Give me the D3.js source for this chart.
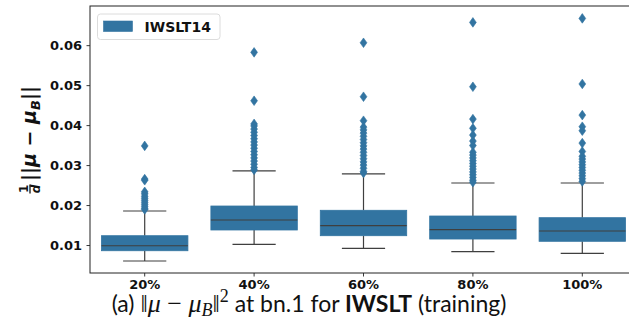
<!DOCTYPE html>
<html>
<head>
<meta charset="utf-8">
<script src="https://cdn.jsdelivr.net/npm/d3@7"></script>
<style>
  html, body { margin: 0; padding: 0; background: #fff; overflow: hidden; }
  svg { display: block; }
</style>
</head>
<body>
<svg id="chart" width="629" height="322"></svg>
<script>
// Box statistics per training-fraction group
const categories = ["20%", "40%", "60%", "80%", "100%"];
const q1Values      = [0.00857, 0.01376, 0.01233, 0.01150, 0.01093];
const medianValues  = [0.00982, 0.01626, 0.01483, 0.01383, 0.01351];
const q3Values      = [0.01233, 0.01976, 0.01869, 0.01726, 0.01684];
const whiskerLow    = [0.00600, 0.01017, 0.00917, 0.00833, 0.00792];
const whiskerHigh   = [0.01851, 0.02853, 0.02778, 0.02552, 0.02552];
const outliers20  = [0.0348, 0.0265, 0.0262, 0.0233, 0.0228, 0.0222, 0.0217, 0.0212, 0.0207, 0.0202, 0.0197, 0.0192, 0.0189];
const outliers40  = [0.0582, 0.0461, 0.0403, 0.0398, 0.0390, 0.0382, 0.0374, 0.0366, 0.0358, 0.0350, 0.0342, 0.0334, 0.0326, 0.0318, 0.0310, 0.0302, 0.0294, 0.0288];
const outliers60  = [0.0606, 0.0471, 0.0411, 0.0395, 0.0388, 0.0380, 0.0372, 0.0364, 0.0356, 0.0348, 0.0340, 0.0332, 0.0324, 0.0316, 0.0308, 0.0300, 0.0292, 0.0284, 0.0280];
const outliers80  = [0.0657, 0.0496, 0.0415, 0.0392, 0.0375, 0.0360, 0.0349, 0.0332, 0.0325, 0.0318, 0.0311, 0.0304, 0.0297, 0.0290, 0.0283, 0.0276, 0.0269, 0.0262, 0.0257];
const outliers100 = [0.0667, 0.0503, 0.0425, 0.0396, 0.0386, 0.0355, 0.0334, 0.0322, 0.0315, 0.0308, 0.0301, 0.0294, 0.0287, 0.0280, 0.0273, 0.0266, 0.0259];
const outlierGroups = [outliers20, outliers40, outliers60, outliers80, outliers100];
const yTicks = [0.01, 0.02, 0.03, 0.04, 0.05, 0.06];
const seriesName = "IWSLT14";

const boxColor = "#3274a1";
const lineColor = "#3f3f3f";

const svg = d3.select("#chart");
const plot = { left: 90, top: 6, right: 637, bottom: 273 };

const x = d3.scaleBand().domain(categories).range([plot.left, plot.right]).padding(0);
const y = d3.scaleLinear().domain([0.003, 0.0698]).range([plot.bottom, plot.top]);

const boxW = x.bandwidth() * 0.79;
const capW = boxW / 2;

const rows = categories.map((c, i) => ({
  cat: c, q1: q1Values[i], med: medianValues[i], q3: q3Values[i],
  lo: whiskerLow[i], hi: whiskerHigh[i], out: outlierGroups[i]
}));

const g = svg.append("g");

rows.forEach(d => {
  const cx = x(d.cat) + x.bandwidth() / 2;
  const grp = g.append("g");
  // whiskers
  grp.append("line").attr("x1", cx).attr("x2", cx).attr("y1", y(d.q3)).attr("y2", y(d.hi))
    .attr("stroke", lineColor).attr("stroke-width", 1.2);
  grp.append("line").attr("x1", cx).attr("x2", cx).attr("y1", y(d.q1)).attr("y2", y(d.lo))
    .attr("stroke", lineColor).attr("stroke-width", 1.2);
  // caps
  [d.hi, d.lo].forEach(v => {
    grp.append("line").attr("x1", cx - capW / 2).attr("x2", cx + capW / 2)
      .attr("y1", y(v)).attr("y2", y(v))
      .attr("stroke", lineColor).attr("stroke-width", 1.2);
  });
  // box
  grp.append("rect").attr("x", cx - boxW / 2).attr("width", boxW)
    .attr("y", y(d.q3)).attr("height", y(d.q1) - y(d.q3))
    .attr("fill", boxColor).attr("stroke", boxColor).attr("stroke-width", 0.8);
  // median
  grp.append("line").attr("x1", cx - boxW / 2).attr("x2", cx + boxW / 2)
    .attr("y1", y(d.med)).attr("y2", y(d.med))
    .attr("stroke", lineColor).attr("stroke-width", 1.2);
  // fliers as thin diamonds
  grp.selectAll("path.flier").data(d.out).enter().append("path")
    .attr("class", "flier")
    .attr("d", "M0,-4.8 L3.4,0 L0,4.8 L-3.4,0 Z")
    .attr("transform", v => `translate(${cx},${y(v)})`)
    .attr("fill", boxColor).attr("stroke", boxColor).attr("stroke-width", 0.6);
});

// axes
const tickFont = "'DejaVu Sans', sans-serif";
const yAxis = svg.append("g").attr("transform", `translate(${plot.left},0)`)
  .call(d3.axisLeft(y).tickValues(yTicks).tickFormat(d3.format(".2f")).tickSize(3.5).tickPadding(4.5));
const xAxis = svg.append("g").attr("transform", `translate(0,${plot.bottom})`)
  .call(d3.axisBottom(x).tickSize(3.5).tickPadding(3.5));
[yAxis, xAxis].forEach(a => {
  a.select(".domain").remove();
  a.selectAll(".tick line").attr("stroke", "#222").attr("stroke-width", 0.9);
  a.selectAll(".tick text").attr("fill", "#111").style("font-family", tickFont)
    .style("font-weight", "bold").style("font-size", "13px");
});

// frame
svg.append("rect").attr("x", plot.left).attr("y", plot.top)
  .attr("width", plot.right - plot.left).attr("height", plot.bottom - plot.top)
  .attr("fill", "none").attr("stroke", "#222").attr("stroke-width", 1);

// legend
const lg = svg.append("g");
lg.append("rect").attr("x", 97.5).attr("y", 14).attr("width", 122.5).attr("height", 25.5)
  .attr("rx", 3).attr("fill", "#fff").attr("fill-opacity", 0.85)
  .attr("stroke", "#d8d8d8").attr("stroke-width", 0.9);
lg.append("rect").attr("x", 103.5).attr("y", 21).attr("width", 29).attr("height", 10.5)
  .attr("fill", boxColor).attr("stroke", boxColor).attr("stroke-width", 0.6);
lg.append("text").attr("x", 144.5).attr("y", 31.5).text(seriesName)
  .style("font-family", tickFont).style("font-weight", "bold").style("font-size", "14px").attr("fill", "#111");

// y-axis label: 1/d ||mu - mu_B||
const yl = svg.append("g").attr("transform", "translate(36,140) rotate(-90)");
const fracW = 10;
const main = yl.append("text").attr("y", 0)
  .style("font-family", "'DejaVu Sans', sans-serif").style("font-weight", "bold")
  .style("font-size", "19px").attr("fill", "#111");
main.append("tspan").text("||");
main.append("tspan").text("μ").style("font-style", "italic");
main.append("tspan").text(" − ");
main.append("tspan").text("μ").style("font-style", "italic");
main.append("tspan").text("B").style("font-style", "italic").style("font-size", "13px").attr("dy", 4);
main.append("tspan").text("||").attr("dy", -4);
const mainW = main.node().getComputedTextLength();
const total = fracW + 3 + mainW;
const startX = -total / 2;
main.attr("x", startX + fracW + 3);
const fx = startX + fracW / 2;
yl.append("text").attr("x", fx).attr("y", -8).attr("text-anchor", "middle").text("1")
  .style("font-family", "'DejaVu Sans', sans-serif").style("font-weight", "bold").style("font-size", "12px").attr("fill", "#111");
yl.append("line").attr("x1", startX + 0.5).attr("x2", startX + fracW - 0.5).attr("y1", -6).attr("y2", -6)
  .attr("stroke", "#111").attr("stroke-width", 1.3);
yl.append("text").attr("x", fx).attr("y", 4).attr("text-anchor", "middle").text("d")
  .style("font-family", "'DejaVu Sans', sans-serif").style("font-weight", "bold").style("font-style", "italic").style("font-size", "12px").attr("fill", "#111");

// caption
const cap = svg.append("text").attr("x", 309).attr("y", 312).attr("text-anchor", "middle")
  .style("font-family", "Lato, 'Open Sans', sans-serif").style("font-size", "23px").attr("fill", "#111");
const serif = "'Liberation Serif', 'DejaVu Serif', serif";
cap.append("tspan").text("(a) ");
cap.append("tspan").text("‖").style("font-family", serif).style("font-size", "26px");
cap.append("tspan").text("μ").style("font-family", serif).style("font-style", "italic").style("font-size", "26px");
cap.append("tspan").text(" − ").style("font-family", serif).style("font-size", "26px");
cap.append("tspan").text("μ").style("font-family", serif).style("font-style", "italic").style("font-size", "26px");
cap.append("tspan").text("B").style("font-family", serif).style("font-style", "italic").style("font-size", "18px").attr("dy", 4);
cap.append("tspan").text("‖").style("font-family", serif).style("font-size", "26px").attr("dy", -4);
cap.append("tspan").text("2").style("font-family", serif).style("font-size", "18px").attr("dy", -10);
cap.append("tspan").text(" at bn.1 for ").attr("dy", 10);
cap.append("tspan").text("IWSLT").style("font-weight", "bold");
cap.append("tspan").text(" (training)");
</script>
</body>
</html>
